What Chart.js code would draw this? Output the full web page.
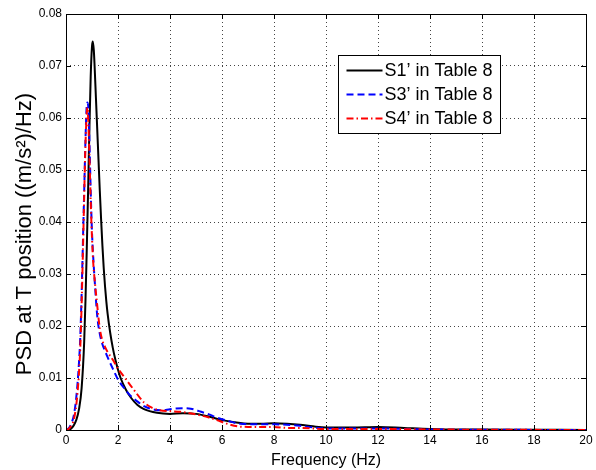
<!DOCTYPE html>
<html><head><meta charset="utf-8">
<script src="https://cdn.jsdelivr.net/npm/chart.js@4.4.1/dist/chart.umd.min.js"></script>
<style>html,body{margin:0;padding:0;background:#fff}#wrap{width:596px;height:470px}</style>
</head><body><div id="wrap"><canvas id="c" width="596" height="470"></canvas></div>
<script>
const seriesNames = ["S1\u2019 in Table 8", "S3\u2019 in Table 8", "S4\u2019 in Table 8"];
const xTicks = [0,2,4,6,8,10,12,14,16,18,20];
const yTicks = [0,0.01,0.02,0.03,0.04,0.05,0.06,0.07,0.08];
const yTickLabels = ["0","0.01","0.02","0.03","0.04","0.05","0.06","0.07","0.08"];
const xTitle = "Frequency (Hz)";
const yTitle = "PSD at T position ((m/s\u00B2)/Hz)";

const s1Freq = [0,0.2,0.4,0.5,0.6,0.7,0.75,0.8,0.85,0.9,0.95,1.0,1.03,1.07,1.1,1.15,1.2,1.25,1.3,1.35,1.4,1.45,1.5,1.55,1.6,1.7,1.8,1.9,2.0,2.1,2.3,2.5,2.75,3.0,3.5,4.0,4.5,5.0,5.5,6.0,6.5,7.0,7.5,8.0,8.5,9.0,9.5,10,11,12,13,14,15,16,18,20];
const s1Psd  = [0,0.0003,0.002,0.004,0.008,0.017,0.025,0.035,0.046,0.058,0.068,0.0738,0.0747,0.073,0.070,0.064,0.058,0.052,0.046,0.0405,0.0355,0.0312,0.0277,0.0248,0.0224,0.0187,0.0158,0.0135,0.0116,0.0100,0.0078,0.0062,0.0048,0.0040,0.0033,0.0031,0.0032,0.0031,0.0026,0.0019,0.0015,0.0012,0.0012,0.0013,0.0012,0.0010,0.0007,0.0005,0.0005,0.0006,0.0004,0.0002,0.0001,0.0001,0.00005,0];

const s3Freq = [0,0.1,0.2,0.3,0.4,0.5,0.55,0.6,0.65,0.7,0.75,0.8,0.83,0.87,0.9,0.95,1.0,1.05,1.1,1.2,1.3,1.4,1.5,1.6,1.8,2.0,2.2,2.5,2.85,3.0,3.4,3.7,4.0,4.5,4.8,5.2,5.5,5.8,6.2,6.7,7.5,8.0,8.5,9.0,9.5,10,11,12,13,14,16,20];
const s3Psd  = [0,0.0003,0.0012,0.0028,0.0065,0.013,0.018,0.026,0.036,0.046,0.056,0.0625,0.063,0.061,0.056,0.046,0.038,0.033,0.029,0.022,0.0185,0.0165,0.0152,0.014,0.0118,0.0097,0.0083,0.0065,0.0051,0.0046,0.0039,0.0038,0.0040,0.0042,0.0041,0.0035,0.0030,0.0024,0.0018,0.0012,0.0011,0.0011,0.0010,0.0008,0.0005,0.0003,0.0003,0.0003,0.0002,0.0001,0.00005,0];

const s4Freq = [0,0.1,0.2,0.3,0.4,0.5,0.55,0.6,0.65,0.7,0.75,0.8,0.83,0.86,0.9,0.95,1.0,1.05,1.1,1.2,1.3,1.4,1.5,1.6,1.8,2.0,2.3,2.6,3.0,3.3,3.6,4.0,4.4,5.0,5.5,5.8,6.2,6.6,7,8,8.5,9,10,12,14,20];
const s4Psd  = [0,0.0002,0.0008,0.002,0.005,0.011,0.016,0.024,0.034,0.045,0.055,0.061,0.062,0.059,0.053,0.044,0.037,0.032,0.029,0.024,0.0195,0.0172,0.016,0.015,0.0135,0.0118,0.0098,0.0078,0.0053,0.0043,0.0038,0.0036,0.0035,0.0030,0.0024,0.0019,0.0012,0.0007,0.0006,0.0006,0.0004,0.0004,0.0002,0.0002,0.0001,0];

const toXY = (xs, ys) => xs.map((x,i)=>({x:x, y:ys[i]}));
const FONT = "'Liberation Sans', Arial, sans-serif";

const frame = {
  id: 'frame',
  afterDraw(chart) {
    const {ctx, chartArea: a, scales} = chart;
    ctx.save();
    ctx.strokeStyle = '#000';
    ctx.lineWidth = 1;
    ctx.setLineDash([]);
    ctx.beginPath();
    const L = 5;
    xTicks.forEach(v => {
      const px = Math.round(scales.x.getPixelForValue(v)) + 0.5;
      ctx.moveTo(px, a.bottom); ctx.lineTo(px, a.bottom - L);
      ctx.moveTo(px, a.top); ctx.lineTo(px, a.top + L);
    });
    yTicks.forEach(v => {
      const py = Math.round(scales.y.getPixelForValue(v)) + 0.5;
      ctx.moveTo(a.left, py); ctx.lineTo(a.left + L, py);
      ctx.moveTo(a.right, py); ctx.lineTo(a.right - L, py);
    });
    ctx.stroke();
    ctx.strokeRect(Math.round(a.left)+0.5, Math.round(a.top)+0.5, Math.round(a.right-a.left), Math.round(a.bottom-a.top));
    // y title (rotated)
    ctx.save();
    ctx.translate(31, 234);
    ctx.rotate(-Math.PI/2);
    ctx.fillStyle = '#000';
    ctx.font = '22px ' + FONT;
    ctx.textAlign = 'center';
    ctx.textBaseline = 'alphabetic';
    ctx.fillText(yTitle, 0, 0);
    ctx.restore();
    // legend
    const bx = 338.5, by = 55.5, bw = 162, bh = 78;
    ctx.fillStyle = '#fff';
    ctx.fillRect(bx, by, bw, bh);
    ctx.strokeRect(bx, by, bw, bh);
    const ds = chart.data.datasets;
    ctx.font = '18px ' + FONT;
    ctx.textBaseline = 'middle';
    ctx.textAlign = 'left';
    ds.forEach((d, i) => {
      const yy = by + 15 + i * 24;
      ctx.strokeStyle = d.borderColor;
      ctx.lineWidth = d.borderWidth;
      ctx.setLineDash(d.borderDash || []);
      ctx.beginPath();
      ctx.moveTo(bx + 8, yy); ctx.lineTo(bx + 44, yy);
      ctx.stroke();
      ctx.fillStyle = '#000';
      ctx.fillText(d.label, bx + 46, yy + 1);
    });
    ctx.restore();
  }
};

new Chart(document.getElementById('c'), {
  type: 'line',
  data: {
    datasets: [
      {label: seriesNames[0], data: toXY(s1Freq, s1Psd), borderColor:'#000000', borderWidth:2, borderDash:[], order:3},
      {label: seriesNames[1], data: toXY(s3Freq, s3Psd), borderColor:'#0000ff', borderWidth:2, borderDash:[7,4], order:2},
      {label: seriesNames[2], data: toXY(s4Freq, s4Psd), borderColor:'#ff0000', borderWidth:2, borderDash:[7,3,1.5,3], order:1}
    ]
  },
  options: {
    responsive: false,
    animation: false,
    devicePixelRatio: 1,
    parsing: false,
    elements: { point: { radius: 0 }, line: { cubicInterpolationMode: 'monotone', fill: false } },
    layout: { padding: { left: 0, right: 10, top: 14, bottom: 0 } },
    plugins: { legend: { display: false }, tooltip: { enabled: false } },
    scales: {
      x: {
        type: 'linear', min: 0, max: 20,
        afterBuildTicks: s => { s.ticks = xTicks.map(v => ({value: v})); },
        afterFit: s => { s.height = 40; },
        ticks: { color:'#000', font:{family:FONT, size:12}, padding: 3, maxRotation:0, autoSkip:false, callback: v => String(v) },
        grid: { color:'#444', drawTicks:false, lineWidth:1 },
        border: { display:false, dash:[1,3] },
        title: { display:true, text:xTitle, color:'#000', font:{family:FONT, size:16}, padding:{top:0, bottom:0} }
      },
      y: {
        type: 'linear', min: 0, max: 0.08,
        afterBuildTicks: s => { s.ticks = yTicks.map(v => ({value: v})); },
        afterFit: s => { s.width = 66; },
        ticks: { color:'#000', font:{family:FONT, size:12}, padding: 4, autoSkip:false, callback: (v) => yTickLabels[yTicks.findIndex(t => Math.abs(t - v) < 1e-9)] },
        grid: { color:'#444', drawTicks:false, lineWidth:1 },
        border: { display:false, dash:[1,3] },
        title: { display:false }
      }
    }
  },
  plugins: [frame]
});
</script></body></html>
